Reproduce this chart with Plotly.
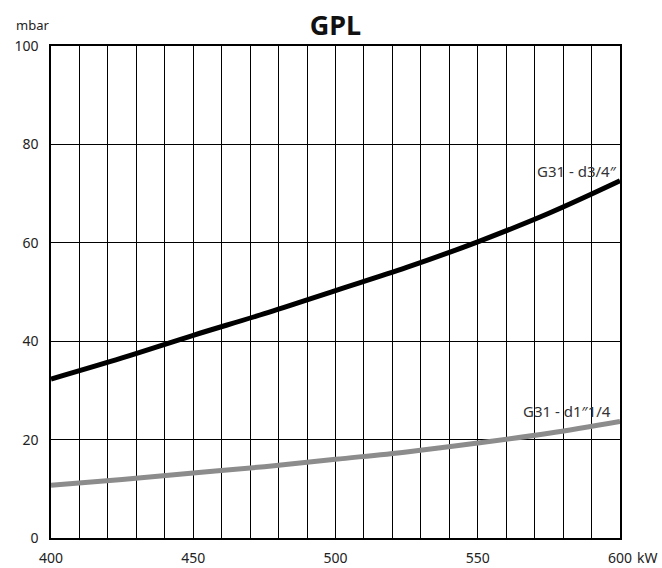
import plotly.graph_objects as go

# Data
power_kw = [400, 425, 450, 475, 500, 525, 550, 575, 600]
g31_d34 = [32.3, 36.6, 41.2, 45.6, 50.3, 55.0, 60.2, 66.0, 72.6]
g31_d1_14 = [10.7, 11.9, 13.2, 14.5, 16.0, 17.5, 19.3, 21.3, 23.7]
x_ticks = [400, 450, 500, 550, 600]
x_tick_text = ["400", "450", "500", "550", "600"]
y_ticks = [0, 20, 40, 60, 80, 100]

FONT = "'Noto Sans', 'Open Sans', sans-serif"

fig = go.Figure()
fig.add_trace(go.Scatter(x=power_kw, y=g31_d34, mode="lines",
                         line=dict(color="#000000", width=5, shape="spline"),
                         name="G31 - d3/4″", showlegend=False))
fig.add_trace(go.Scatter(x=power_kw, y=g31_d1_14, mode="lines",
                         line=dict(color="#8c8c8c", width=5, shape="spline"),
                         name="G31 - d1″1/4", showlegend=False))

fig.add_annotation(x=600, y=74.6, text="G31 - d3/4″", showarrow=False,
                   xanchor="right", yanchor="middle", xshift=-1,
                   font=dict(family=FONT, size=15, color="#333333"))
fig.add_annotation(x=600, y=25.8, text="G31 - d1″1/4", showarrow=False,
                   xanchor="right", yanchor="middle", xshift=-7,
                   font=dict(family=FONT, size=15, color="#333333"))
fig.add_annotation(xref="paper", yref="paper", x=0, y=1, text="mbar",
                   showarrow=False, xanchor="right", yanchor="bottom",
                   xshift=0, yshift=10,
                   font=dict(family=FONT, size=13, color="#222222"))
fig.add_annotation(xref="paper", yref="paper", x=1, y=0, text="kW",
                   showarrow=False, xanchor="left", yanchor="middle",
                   xshift=15, yshift=-19,
                   font=dict(family=FONT, size=14, color="#222222"))

fig.update_layout(
    width=662, height=568,
    margin=dict(l=51, r=42, t=46, b=30, autoexpand=False),
    paper_bgcolor="white", plot_bgcolor="white",
    title=dict(text="<b>GPL</b>", x=0.5, xref="paper", xanchor="center",
               y=1, yref="paper", yanchor="bottom", pad=dict(b=11),
               automargin=False,
               font=dict(family=FONT, size=27, color="#111111")),
    font=dict(family=FONT, size=14, color="#222222"),
    xaxis=dict(range=[400, 600], tickvals=x_ticks, ticktext=x_tick_text,
               showgrid=True, gridcolor="#000000", gridwidth=1,
               minor=dict(dtick=10, tick0=400, showgrid=True,
                          gridcolor="#000000", gridwidth=1),
               showline=True, linecolor="#000000", linewidth=1.5, mirror=True,
               zeroline=False, ticks="", ticklabelstandoff=6,
               automargin=False, fixedrange=True),
    yaxis=dict(range=[0, 100], tickvals=y_ticks,
               showgrid=True, gridcolor="#000000", gridwidth=1,
               showline=True, linecolor="#000000", linewidth=1.5, mirror=True,
               zeroline=False, ticks="", ticklabelstandoff=8,
               automargin=False, fixedrange=True),
)

fig.write_html("out.html", config={"displayModeBar": False},
               post_script="document.body.style.margin='0';")
